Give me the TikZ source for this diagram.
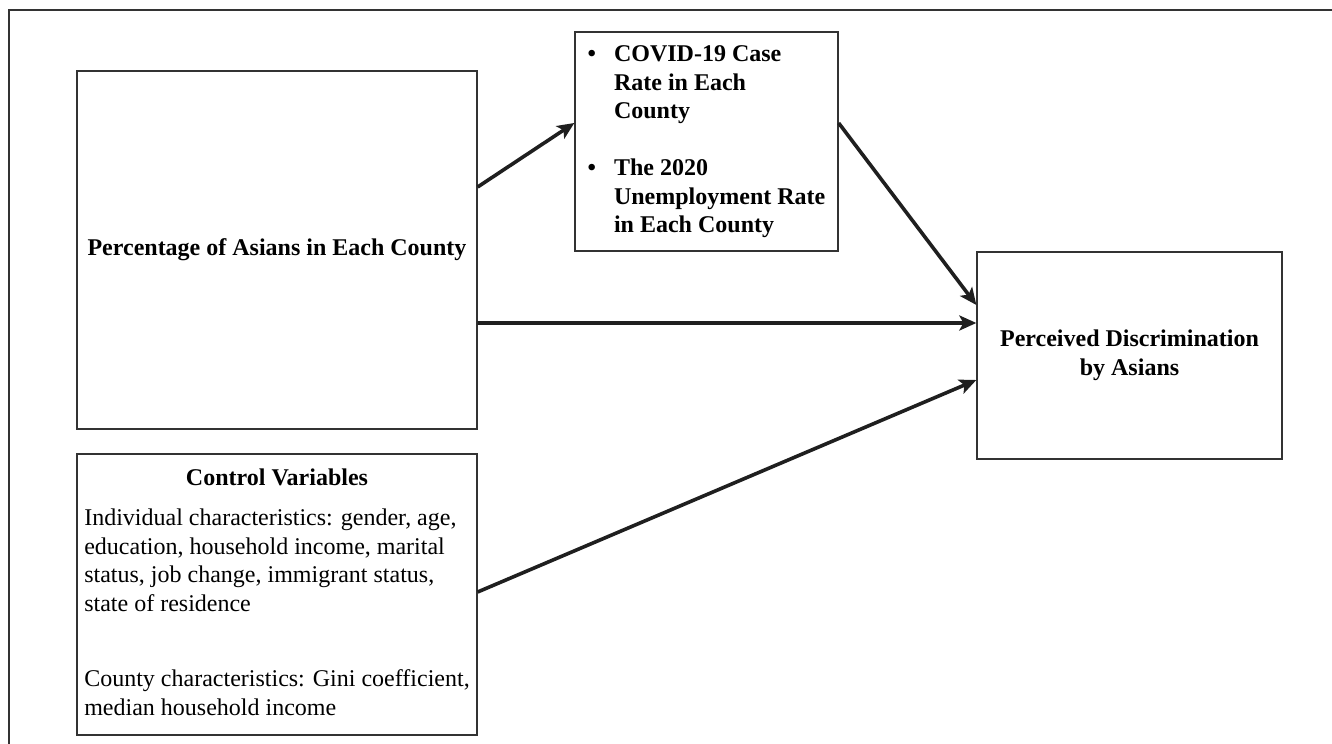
\documentclass[tikz,border=0pt]{standalone}
\usepackage{fontspec}
\setmainfont{Liberation Serif}
\usetikzlibrary{arrows.meta}
\definecolor{boxcol}{gray}{0.2}
\begin{document}
\begin{tikzpicture}[box/.style={draw=boxcol,rectangle,line width=1.3bp,inner sep=0pt,font=\fontsize{24bp}{28.5bp}\selectfont},
  effect/.style={-{Stealth[length=17bp,width=15bp,inset=4bp]},line width=3.6bp,draw=black!88}]
  \useasboundingbox (0bp,0bp) rectangle (1332bp,744bp);
  \draw [line width=1.8bp,draw=boxcol] (9bp,0bp) -- (9bp,734bp) -- (1332bp,734bp);
  \node (Pct) at (277bp,494bp) [box,minimum width=400bp,minimum height=358bp] {\bfseries Percentage of Asians in Each County};
  \node (Med) at (706.5bp,602.5bp) [box,minimum width=263bp,minimum height=219bp] {\bfseries
    \begin{tabular}{@{}l@{\hskip 18bp}l@{}}
      \textbullet & COVID-19 Case\\
      & Rate in Each\\
      & County\\[28.5bp]
      \textbullet & The 2020\\
      & Unemployment Rate\\
      & in Each County
    \end{tabular}};
  \node (Discr) at (1129.5bp,388.5bp) [box,minimum width=305bp,minimum height=207bp,align=center] {\bfseries Perceived Discrimination\\ \bfseries by Asians};
  \node (Ctrl) at (277bp,149.5bp) [box,minimum width=400bp,minimum height=281bp] {%
    \begin{tabular}{@{}l@{}}
      \multicolumn{1}{@{}c@{}}{\bfseries Control Variables}\\[12bp]
      Individual characteristics: gender, age,\\
      education, household income, marital\\
      status, job change, immigrant status,\\
      state of residence\\[47bp]
      County characteristics: Gini coefficient,\\
      median household income
    \end{tabular}};
  \draw [effect] ([yshift=63bp]Pct.east) -- ([yshift=18.5bp]Med.west);
  \draw [effect] ([yshift=18.5bp]Med.east) -- ([yshift=50.5bp]Discr.west);
  \draw [effect] ([yshift=-73bp]Pct.east) -- ([yshift=32.5bp]Discr.west);
  \draw [effect] ([yshift=2.5bp]Ctrl.east) -- ([yshift=-24.5bp]Discr.west);
\end{tikzpicture}
\end{document}
